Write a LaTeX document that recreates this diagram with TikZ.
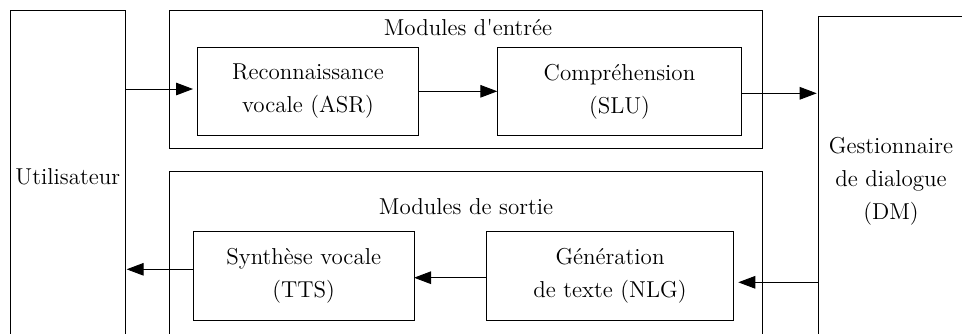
\documentclass[tikz,border=0pt]{standalone}
\usetikzlibrary{arrows.meta,calc}
\begin{document}
\begin{tikzpicture}[x=0.5pt,y=-0.5pt,
  every node/.style={font=\fontsize{11.5pt}{16.5pt}\selectfont, inner sep=0pt, outer sep=0pt, align=center},
  box/.style={draw, line width=0.45pt},
  arr/.style={line width=0.45pt, -{Triangle[length=8.5pt,width=6.3pt]}}]
\useasboundingbox (0,0) rectangle (962,333);
\clip (0,0) rectangle (962,333);
% big side boxes
\node[box, minimum width=57.85pt, minimum height=167pt] (util) at (67.8,177) {Utilisateur};
\node[box, minimum width=72.7pt, minimum height=165pt] (dm) at (891,181) {Gestionnaire\\de dialogue\\(DM)};
% group boxes
\node[box, minimum width=296.35pt, minimum height=69pt] (inbox) at (465.65,79.7) {};
\node (intitle) at (468,28) {Modules d\textquotesingle entrée};
\node[box, minimum width=296.7pt, minimum height=86.65pt] (outbox) at (466,258.35) {};
\node (outtitle) at (466,207) {Modules de sortie};
% modules
\node[box, minimum width=110.3pt, minimum height=44pt] (asr) at (308,91.3) {Reconnaissance\\vocale (ASR)};
\node[box, minimum width=122.2pt, minimum height=44pt] (slu) at (619.5,91.3) {Compréhension\\(SLU)};
\node[box, minimum width=110.35pt, minimum height=44.15pt] (tts) at (303.7,275.8) {Synthèse vocale\\(TTS)};
\node[box, minimum width=123.3pt, minimum height=44.15pt] (nlg) at (610,275.8) {Génération\\de texte (NLG)};
% connectors
\coordinate (a1) at ([yshift=1.15pt]asr.west);
\draw[arr, shorten >=2.35pt] (util.east |- a1) -- (a1);
\draw[arr] (asr.east) -- (slu.west);
\coordinate (a3) at ([yshift=-1pt]slu.east);
\draw[arr, shorten >=0.8pt] (a3) -- (dm.west |- a3);
\coordinate (a4) at ([yshift=-3.25pt]nlg.east);
\draw[arr, shorten >=2.5pt] (dm.west |- a4) -- (a4);
\coordinate (a5) at ([yshift=-0.95pt]nlg.west);
\draw[arr] (a5) -- (tts.east |- a5);
\coordinate (a6) at ([yshift=3.25pt]tts.west);
\draw[arr, shorten >=0.5pt] (a6) -- (util.east |- a6);
\end{tikzpicture}
\end{document}
